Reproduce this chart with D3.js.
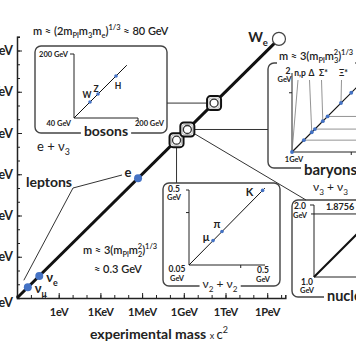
<!DOCTYPE html>
<html><head><meta charset="utf-8">
<script src="https://cdn.jsdelivr.net/npm/d3@7"></script>
<style>
body{margin:0;background:#fff}
svg{display:block}
text{font-family:Lato,"Open Sans","DejaVu Sans",sans-serif;fill:#222;white-space:pre}
</style>
</head><body>
<svg id="c" width="356" height="364"></svg>
<script>
// ---------------- data ----------------
const tickValues = [1e-3, 1, 1e3, 1e6, 1e9, 1e12, 1e15];
const tickLabels = ["1meV", "1eV", "1KeV", "1MeV", "1GeV", "1TeV", "1PeV"];
const leptonNames = ["νμ", "νe", "e"];
const leptonMasses = [6e-3, 4e-2, 5.11e5];            // eV
const groupNames = ["mesons", "baryons", "bosons"];
const groupMasses = [3e8, 1.8e9, 1.5e11];             // eV
const weMass = 7e15;                                   // eV
const bosonNames = ["W", "Z", "H"];
const bosonMasses = [80, 100, 145];                    // GeV (as drawn)
const bosonLineEnd = 172;
const mesonNames = ["μ", "π", "K"];
const mesonMasses = [0.1057, 0.1396, 0.494];           // GeV
const mesonTick = 0.25;
const baryonNames = ["n,p", "Δ", "Σ*", "Ξ*"];
const baryonMasses = [1.0, 1.25, 1.39, 1.62];          // GeV
const baryonLineMasses = [1.15, 1.29, 1.45];
const baryonExtraMasses = [1.75];
const baryonTick = 1.75;
const nucleiMass = 1.8756;

// ---------------- helpers ----------------
const svg = d3.select("#c");
const INK = "#222", BLUE = "#4472c4";

function rich(parent, x, y, segs, size, weight, anchor) {
  const t = parent.append("text").attr("x", x).attr("y", y)
    .attr("font-size", size).attr("font-weight", weight || "normal")
    .attr("text-anchor", anchor || "start");
  let shift = 0;
  segs.forEach(s => {
    const kind = s.k || "n";
    const fs = s.fs || (kind === "n" ? size : size * 0.68);
    const target = kind === "sub" ? size * 0.3 : kind === "sup" ? -size * 0.42 : 0;
    const ts = t.append("tspan").attr("dy", (target - shift).toFixed(2)).attr("font-size", fs).text(s.t);
    if (s.dx) ts.attr("dx", s.dx);
    shift = target;
  });
  return t;
}
function knockout(t, padX, padY) {
  const b = t.node().getBBox();
  d3.select(t.node().parentNode).insert("rect", () => t.node())
    .attr("x", b.x - padX).attr("y", b.y - padY)
    .attr("width", b.width + 2 * padX).attr("height", b.height + 2 * padY)
    .attr("fill", "#fff");
}
function box(x0, y0, w, h) {
  svg.append("rect").attr("x", x0).attr("y", y0).attr("width", w).attr("height", h)
    .attr("rx", 6).attr("fill", "none").attr("stroke", "#444").attr("stroke-width", 1.4);
}
function line(x1, y1, x2, y2, w, c) {
  return svg.append("line").attr("x1", x1).attr("y1", y1).attr("x2", x2).attr("y2", y2)
    .attr("stroke", c || "#333").attr("stroke-width", w || 1);
}
function label(x0, y0, txt, size, weight, anchor) {
  return svg.append("text").attr("x", x0).attr("y", y0).attr("font-size", size)
    .attr("font-weight", weight || "bold").attr("text-anchor", anchor || "middle").text(txt);
}

// ---------------- main scales & axes ----------------
const x = d3.scaleLog().domain([1e-3, 2e16]).range([17, 285.3]);
const y = d3.scaleLog().domain([1e-3, 1e16]).range([298, 36.75]);
const decX = d3.range(-3, 17).map(e => Math.pow(10, e));
const decY = d3.range(-3, 17).map(e => Math.pow(10, e));

function styleAxis(g, size) {
  g.attr("font-family", null).attr("font-size", size || 11).attr("font-weight", "bold");
  g.selectAll("line").attr("stroke", INK);
  g.selectAll("text").attr("fill", INK);
}
// minor ticks
svg.append("g").attr("transform", "translate(0,298)")
  .call(d3.axisBottom(x).tickValues(decX).tickSize(-3).tickFormat(""))
  .call(g => { g.select(".domain").attr("stroke", INK).attr("stroke-width", 1.5); styleAxis(g); });
svg.append("g").attr("transform", "translate(17,0)")
  .call(d3.axisLeft(y).tickValues(decY).tickSize(-3).tickFormat(""))
  .call(g => { g.select(".domain").attr("stroke", INK).attr("stroke-width", 1.5); styleAxis(g); });
// major ticks with labels
svg.append("g").attr("transform", "translate(0,298)")
  .call(d3.axisBottom(x).tickValues(tickValues.slice(1)).tickSize(-5).tickPadding(10)
    .tickFormat(d => tickLabels[tickValues.indexOf(d)]))
  .call(g => { g.select(".domain").remove(); styleAxis(g, 11); });
svg.append("g").attr("transform", "translate(17,0)")
  .call(d3.axisLeft(y).tickValues(tickValues).tickSize(-5).tickPadding(4)
    .tickFormat(d => tickLabels[tickValues.indexOf(d)]))
  .call(g => { g.select(".domain").remove(); styleAxis(g, 12.5);
    g.selectAll("text").attr("dy", d => d === 1e-3 ? "0.7em" : "0.32em"); });

// x-axis title
const xt = svg.append("text").attr("x", 90).attr("y", 339).attr("font-size", 14).attr("font-weight", "bold");
xt.append("tspan").text("experimental mass ");
xt.append("tspan").attr("font-size", 9).attr("font-weight", "normal").text("x ");
xt.append("tspan").attr("font-size", 13).attr("font-weight", "normal").text("c");
xt.append("tspan").attr("font-size", 9).attr("font-weight", "normal").attr("dy", -6).text("2");

// ---------------- boxes ----------------
box(35, 46, 132, 87);     // bosons
box(163, 183, 117, 103);  // mesons
box(268, 63, 130, 105);   // baryons
box(292, 200, 100, 97);   // nuclei

// ---------------- connectors ----------------
const gm = groupMasses.map(m => [x(m), y(m)]);
line(73, 188, 122, 175);                                   // leptons -> e
line(73, 188, x(leptonMasses[0]) - 4, y(leptonMasses[0]) - 7); // leptons -> nu
line(167, gm[2][1], gm[2][0], gm[2][1]);                   // bosons
line(gm[0][0], gm[0][1], gm[0][0], 183);                   // mesons
line(gm[1][0], gm[1][1], 268, gm[1][1]);                   // baryons
line(gm[1][0], gm[1][1], 306, 200);                        // nuclei

// ---------------- main diagonal ----------------
line(x(1e-3), y(1e-3), x(weMass), y(weMass), 3, "#111");

// leptons
leptonMasses.forEach(m => {
  svg.append("circle").attr("cx", x(m)).attr("cy", y(m)).attr("r", 4).attr("fill", BLUE);
});
rich(svg, x(leptonMasses[0]) + 7, y(leptonMasses[0]) + 6, [{t: "ν"}, {t: "μ", k: "sub"}], 13, "bold");
rich(svg, x(leptonMasses[1]) + 7, y(leptonMasses[1]) + 6, [{t: "ν"}, {t: "e", k: "sub"}], 13, "bold");
label(x(leptonMasses[2]) - 10, y(leptonMasses[2]) - 1, leptonNames[2], 13, "bold");
label(49, 187, "leptons", 14, "bold");

// group markers
gm.forEach(p => {
  svg.append("rect").attr("x", p[0] - 7).attr("y", p[1] - 7).attr("width", 14).attr("height", 14)
    .attr("rx", 3.5).attr("fill", "#fff").attr("stroke", "#111").attr("stroke-width", 2);
  svg.append("rect").attr("x", p[0] - 5).attr("y", p[1] - 5).attr("width", 10).attr("height", 10)
    .attr("rx", 2).attr("fill", "#fff").attr("stroke", "#aaa").attr("stroke-width", 0.8);
  svg.append("circle").attr("cx", p[0]).attr("cy", p[1]).attr("r", 4)
    .attr("fill", "#fff").attr("stroke", "#333").attr("stroke-width", 1.3);
});
// W_e
svg.append("circle").attr("cx", x(weMass)).attr("cy", y(weMass)).attr("r", 6.5)
  .attr("fill", "#fff").attr("stroke", "#444").attr("stroke-width", 1.2);
rich(svg, x(weMass) - 11, y(weMass) + 3, [{t: "W"}, {t: "e", k: "sub"}], 14, "bold", "end");

// ---------------- formulas & labels ----------------
rich(svg, 33, 35, [{t: "m ≈ (2m"}, {t: "Pl", k: "sub"}, {t: "m"}, {t: "3", k: "sub"}, {t: "m"}, {t: "e", k: "sub"},
  {t: ")"}, {t: "1/3", k: "sup"}, {t: " ≈ 80 GeV"}], 11, 600);
rich(svg, 37, 151, [{t: "e + ν"}, {t: "3", k: "sub"}], 13, "normal");
rich(svg, 83, 254, [{t: "m ≈ 3(m"}, {t: "Pl", k: "sub"}, {t: "m"}, {t: "2", k: "sub"}, {t: "2", k: "sup", dx: -4.5},
  {t: ")"}, {t: "1/3", k: "sup"}], 11, 600);
rich(svg, 94, 273, [{t: "≈ 0.3 GeV"}], 11, 600);
const bf = rich(svg, 279, 60, [{t: "m ≈ 3(m"}, {t: "Pl", k: "sub"}, {t: "m"}, {t: "3", k: "sub"}, {t: "2", k: "sup", dx: -4.5},
  {t: ")"}, {t: "1/3", k: "sup"}], 11, 600);
knockout(bf, 2, 0);
rich(svg, 313, 191, [{t: "ν"}, {t: "3", k: "sub"}, {t: " + ν"}, {t: "3", k: "sub"}], 12, "normal");
const nu2 = rich(svg, 220, 288, [{t: "ν"}, {t: "2", k: "sub"}, {t: " + ν"}, {t: "2", k: "sub"}], 12, "normal", "middle");
knockout(nu2, 3, -3);

const tb = label(106, 136, groupNames[2], 14, "bold"); knockout(tb, 3, -4);
const tba = label(304, 175, groupNames[1], 15, "bold", "start"); knockout(tba, 3, -4);
const tn = label(327, 301, "nuclei", 14.5, "bold", "start"); knockout(tn, 3, -4);

// ---------------- bosons inset ----------------
const bx = d3.scaleLinear().domain([40, 200]).range([74, 138]);
const by = d3.scaleLinear().domain([40, 200]).range([118, 54]);
line(bx(40), by(40), bx(40), by(200), 1, INK);
line(bx(40), by(40), bx(200), by(40), 1, INK);
line(bx(40) - 4, by(200), bx(40), by(200), 1, INK);
line(bx(200), by(40), bx(200), by(40) + 3, 1, INK);
label(bx(40) - 6, by(200) + 2.5, "200 GeV", 7.5, "bold", "end");
label(bx(40) - 3, 126, "40 GeV", 7.5, "bold", "end");
label(bx(200) - 3, 126, "200 GeV", 7.5, "bold", "start");
line(bx(40), by(40), bx(bosonLineEnd), by(bosonLineEnd), 1, "#111");
const bOff = {W: [-3, -4], Z: [-2, -2], H: [2, 13]};
bosonMasses.forEach((m, i) => {
  svg.append("circle").attr("cx", bx(m)).attr("cy", by(m)).attr("r", 1.8).attr("fill", BLUE);
  const o = bOff[bosonNames[i]];
  label(bx(m) + o[0], by(m) + o[1], bosonNames[i], 8.5, "bold");
});

// ---------------- mesons inset ----------------
const mx = d3.scaleLog().domain([0.05, 0.5]).range([189, 263]);
const my = d3.scaleLog().domain([0.05, 0.5]).range([265, 190]);
line(mx(0.05), my(0.05), mx(0.05), my(0.5), 1, INK);
line(mx(0.05), my(0.05), mx(0.5) + 2, my(0.05), 1, INK);
line(mx(0.05) - 3, my(0.5), mx(0.05), my(0.5), 1, INK);
line(mx(0.05) - 3, my(mesonTick), mx(0.05), my(mesonTick), 1, INK);
line(mx(mesonTick), my(0.05), mx(mesonTick), my(0.05) + 3, 1, INK);
line(mx(0.05), my(0.05), mx(0.53), my(0.53), 1, "#111");
label(174, 192, "0.5", 8.5, "bold"); label(174, 200, "GeV", 7.5, "bold");
label(177, 272, "0.05", 8.5, "bold"); label(177, 280.5, "GeV", 7.5, "bold");
label(263, 273, "0.5", 8.5, "bold"); label(263, 281.5, "GeV", 7.5, "bold");
const mOff = {"μ": [-7, 0], "π": [-5, -4], "K": [-13, 6]};
mesonMasses.forEach((m, i) => {
  svg.append("circle").attr("cx", mx(m)).attr("cy", my(m)).attr("r", 1.8).attr("fill", BLUE);
  const o = mOff[mesonNames[i]];
  label(mx(m) + o[0], my(m) + o[1], mesonNames[i], 11, "bold");
});

// ---------------- baryons inset ----------------
const nx = d3.scaleLinear().domain([1, 2]).range([292, 371]);
const ny = d3.scaleLinear().domain([1, 2]).range([152, 73]);
line(nx(1), ny(1), nx(1), ny(2), 1, INK);
line(nx(1), ny(1), nx(2.2), ny(1), 1, INK);
line(nx(1) - 3, ny(baryonTick), nx(1), ny(baryonTick), 1, INK);
line(nx(baryonTick), ny(1), nx(baryonTick), ny(1) + 3, 1, INK);
baryonLineMasses.forEach(m => line(nx(m), ny(m), 360, ny(m), 0.8, "#777"));
const bLab = {"n,p": 300, "Δ": 311.5, "Σ*": 323.5, "Ξ*": 343.5};
baryonMasses.forEach((m, i) => {
  line(bLab[baryonNames[i]] - 2, 80, nx(m), ny(m), 0.8, "#777");
});
line(nx(1), ny(1), nx(2.2), ny(2.2), 1.2, "#111");
baryonMasses.concat(baryonLineMasses, baryonExtraMasses).forEach(m => {
  svg.append("circle").attr("cx", nx(m)).attr("cy", ny(m)).attr("r", 1.9).attr("fill", BLUE);
});
baryonNames.forEach(n => label(bLab[n], 76, n, 8.5, "bold"));
label(288, 74, "2", 8.5, "bold"); label(284.5, 82, "GeV", 7.5, "bold");
label(294, 162, "1GeV", 7.5, "bold");

// ---------------- nuclei inset ----------------
const ux = d3.scaleLinear().domain([1, 2]).range([314, 386]);
const uy = d3.scaleLinear().domain([1, 2]).range([277, 205]);
line(ux(1), uy(1), ux(1), uy(2), 1, INK);
line(ux(1), uy(1), ux(2.2), uy(1), 1, INK);
line(ux(1) - 4, uy(2), ux(1), uy(2), 1, INK);
line(ux(1) - 3, uy(nucleiMass), ux(2.2), uy(nucleiMass), 1, INK);
line(ux(1), uy(1), ux(nucleiMass), uy(nucleiMass), 2, "#111");
label(300, 209, "2.0", 8.5, "bold"); label(300, 218, "GeV", 7.5, "bold");
label(307, 285, "1.0", 8.5, "bold"); label(307, 293, "GeV", 7.5, "bold");
label(340, uy(nucleiMass) - 4, "1.8756", 9, "bold");
</script>
</body></html>
